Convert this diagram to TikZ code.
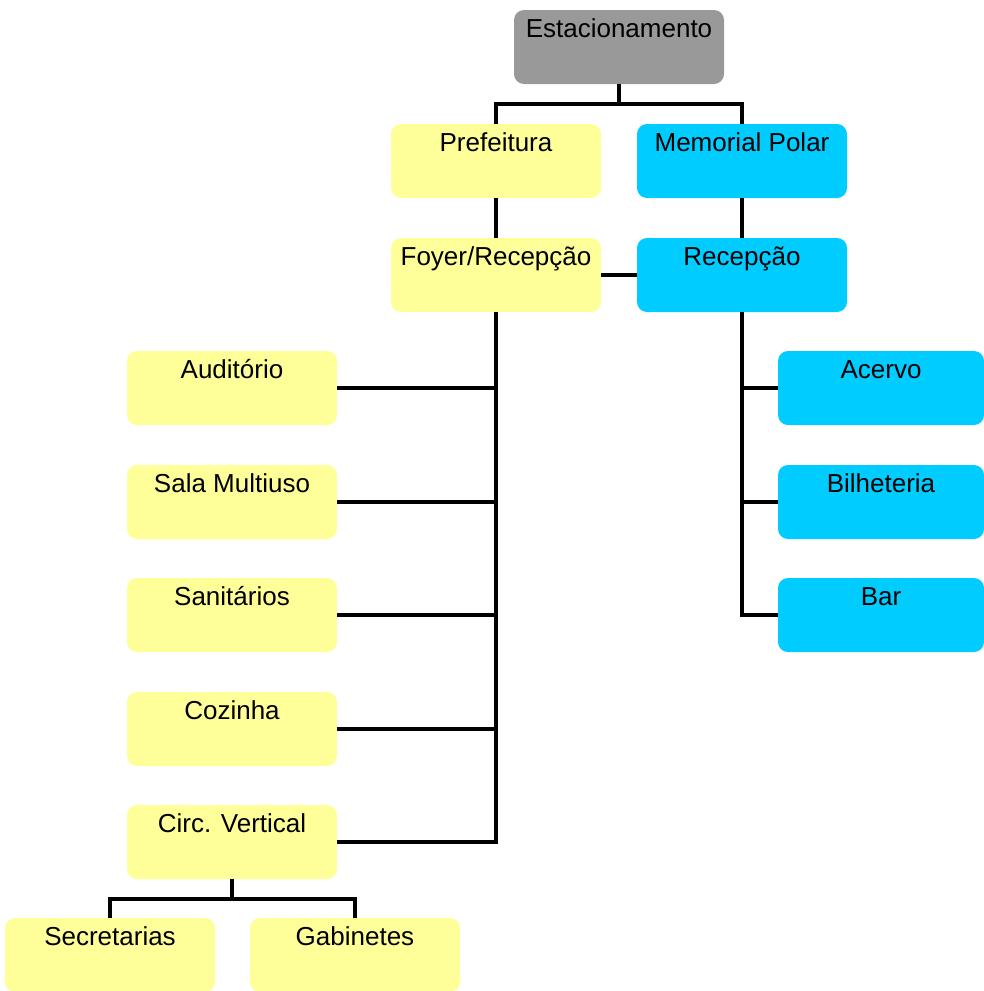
\documentclass[tikz,border=0pt]{standalone}
\usepackage{fontspec}
\setmainfont{Liberation Sans}
\usepackage{xcolor}
\usepackage{tikz}
\usetikzlibrary{
  positioning,
  calc,
}

\definecolor{cinza}{HTML}{999999}
\definecolor{amarelo}{HTML}{FFFF99}
\definecolor{ciano}{HTML}{00CCFF}

\begin{document}
\begin{tikzpicture}[
  x=1pt, y=-1pt,
  font=\fontsize{26}{30}\selectfont,
  sala/.style={rectangle, rounded corners=10pt, draw=none,
               minimum width=210pt, minimum height=74pt,
               inner xsep=0pt, inner ysep=8pt,
               text height=19pt, text depth=39pt},
  pref/.style={sala, fill=amarelo},
  memo/.style={sala, fill=ciano},
  liga/.style={draw=black, line width=3.6pt},
]
\useasboundingbox (0,0) rectangle (984,991);

% topo
\node[sala, fill=cinza] (est) at (619,47) {Estacionamento};
\node[pref] (pre) at (496,161) {Prefeitura};
\node[memo] (mem) at (742,161) {Memorial Polar};
\node[pref] (foy) at (496,275) {Foyer/Recepção};
\node[memo] (rec) at (742,275) {Recepção};

% lado da prefeitura
\node[pref] (aud) at (232,388) {Auditório};
\node[pref] (mul) at (232,502) {Sala Multiuso};
\node[pref] (san) at (232,615) {Sanitários};
\node[pref] (coz) at (232,729) {Cozinha};
\node[pref] (cir) at (232,842) {Circ. Vertical};
\node[pref] (sec) at (110,955) {Secretarias};
\node[pref] (gab) at (355,955) {Gabinetes};

% lado do memorial
\node[memo, minimum width=206pt] (ace) at (881,388) {Acervo};
\node[memo, minimum width=206pt] (bil) at (881,502) {Bilheteria};
\node[memo, minimum width=206pt] (bar) at (881,615) {Bar};

% ligacoes
\draw[liga] (est.south) -- ++(0,20) coordinate (e1);
\draw[liga] (pre.north) |- (e1) -| (mem.north);
\draw[liga] (pre) -- (foy);
\draw[liga] (mem) -- (rec);
\draw[liga] (foy.east) -- (rec.west);

\draw[liga] (foy.south) |- (cir.east);
\foreach \n in {aud,mul,san,coz}{
  \draw[liga] (\n.east) -- (\n.east -| foy.south);
}

\draw[liga] (rec.south) |- (bar.west);
\foreach \n in {ace,bil}{
  \draw[liga] (\n.west) -- (\n.west -| rec.south);
}

\draw[liga] (cir.south) -- ++(0,20) coordinate (c1);
\draw[liga] (sec.north) |- (c1) -| (gab.north);

\end{tikzpicture}
\end{document}
